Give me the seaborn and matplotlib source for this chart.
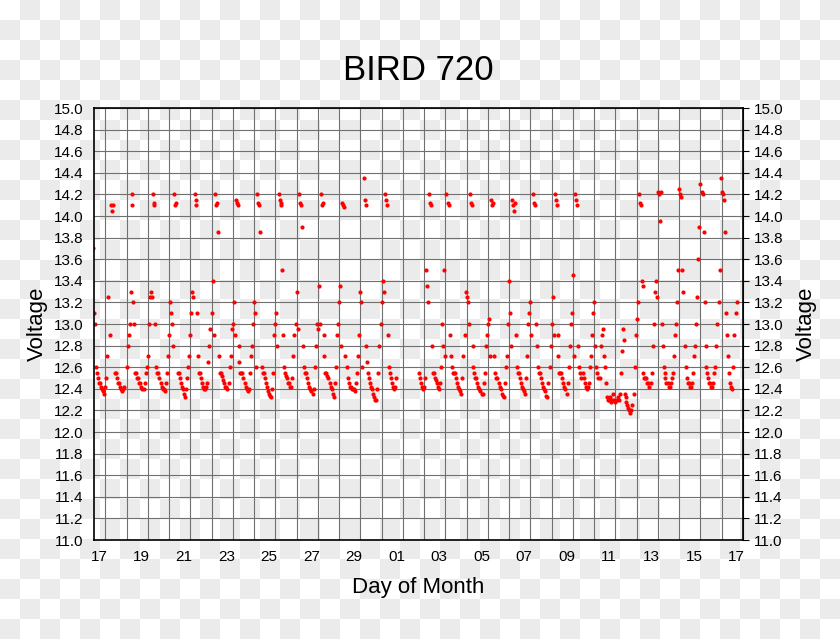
import numpy as np
import pandas as pd
import matplotlib
matplotlib.use("Agg")
import matplotlib.pyplot as plt
import seaborn as sns

# day index 0 = Sep 17; each row: time offsets within the day and voltages
day_offsets = [
    [-0.15, -0.12, -0.1, -0.05, 0.0, 0.05, 0.1, 0.15, 0.2, 0.25, 0.3, 0.35, 0.4, 0.45, 0.5, 0.55, 0.6, 0.65, 0.7, 0.75, 0.8, 0.85, 0.9],
    [0.0, 0.05, 0.1, 0.15, 0.2, 0.25, 0.3, 0.35, 0.4, 0.45, 0.55, 0.6, 0.65, 0.7, 0.75, 0.8, 0.83, 0.86, 0.9, 0.95],
    [0.0, 0.05, 0.1, 0.15, 0.2, 0.25, 0.3, 0.35, 0.4, 0.45, 0.5, 0.55, 0.6, 0.65, 0.7, 0.75, 0.8, 0.82, 0.85, 0.9, 0.95],
    [0.0, 0.05, 0.1, 0.15, 0.2, 0.25, 0.3, 0.35, 0.4, 0.45, 0.5, 0.55, 0.6, 0.65, 0.7, 0.75, 0.8, 0.85, 0.9, 0.95],
    [0.0, 0.05, 0.1, 0.15, 0.2, 0.25, 0.3, 0.35, 0.4, 0.45, 0.5, 0.55, 0.6, 0.65, 0.7, 0.75, 0.8, 0.83, 0.86, 0.9, 0.95],
    [0.0, 0.05, 0.1, 0.15, 0.2, 0.25, 0.3, 0.35, 0.4, 0.45, 0.5, 0.55, 0.6, 0.65, 0.7, 0.75, 0.8, 0.85, 0.9, 0.95],
    [0.0, 0.05, 0.1, 0.15, 0.2, 0.25, 0.3, 0.35, 0.4, 0.45, 0.5, 0.55, 0.6, 0.65, 0.7, 0.75, 0.8, 0.83, 0.86, 0.9, 0.95],
    [0.0, 0.05, 0.1, 0.15, 0.2, 0.25, 0.3, 0.35, 0.4, 0.45, 0.5, 0.55, 0.6, 0.65, 0.7, 0.75, 0.8, 0.85, 0.9, 0.95],
    [0.0, 0.05, 0.1, 0.15, 0.2, 0.25, 0.3, 0.35, 0.4, 0.45, 0.5, 0.55, 0.6, 0.65, 0.7, 0.75, 0.8, 0.83, 0.86, 0.9, 0.95],
    [0.0, 0.05, 0.1, 0.15, 0.2, 0.25, 0.3, 0.35, 0.4, 0.45, 0.5, 0.55, 0.6, 0.65, 0.7, 0.75, 0.8, 0.85, 0.9, 0.95],
    [0.0, 0.05, 0.1, 0.15, 0.2, 0.25, 0.3, 0.35, 0.4, 0.45, 0.5, 0.55, 0.6, 0.65, 0.7, 0.75, 0.8, 0.83, 0.86, 0.9, 0.95],
    [0.0, 0.05, 0.1, 0.15, 0.2, 0.25, 0.3, 0.35, 0.4, 0.45, 0.5, 0.55, 0.6, 0.65, 0.7, 0.75, 0.8, 0.85, 0.9, 0.95],
    [0.0, 0.05, 0.1, 0.15, 0.2, 0.25, 0.3, 0.35, 0.4, 0.45, 0.5, 0.55, 0.6, 0.65, 0.7, 0.75, 0.8, 0.83, 0.86, 0.9, 0.95],
    [0.0, 0.05, 0.1, 0.15, 0.2, 0.25, 0.3, 0.35, 0.4, 0.45, 0.5, 0.55, 0.6, 0.65, 0.7, 0.75, 0.8, 0.85, 0.9, 0.95],
    [0.0, 0.05, 0.1, 0.15, 0.2, 0.25],
    [0.3, 0.35, 0.4, 0.45, 0.5, 0.55, 0.6, 0.65, 0.7, 0.75, 0.8, 0.83, 0.86, 0.9, 0.95],
    [0.0, 0.05, 0.1, 0.15, 0.2, 0.25, 0.3, 0.35, 0.4, 0.45, 0.5, 0.55, 0.6, 0.65, 0.7, 0.75, 0.8, 0.85, 0.9, 0.95],
    [0.0, 0.05, 0.1, 0.15, 0.2, 0.25, 0.3, 0.35, 0.4, 0.45, 0.5, 0.55, 0.6, 0.65, 0.7, 0.75, 0.8, 0.83, 0.86, 0.9, 0.95],
    [0.0, 0.05, 0.1, 0.15, 0.2, 0.25, 0.3, 0.35, 0.4, 0.45, 0.5, 0.55, 0.6, 0.65, 0.7, 0.75, 0.8, 0.85, 0.9, 0.95],
    [0.0, 0.05, 0.1, 0.15, 0.2, 0.25, 0.3, 0.35, 0.4, 0.45, 0.5, 0.55, 0.6, 0.65, 0.7, 0.75, 0.8, 0.83, 0.86, 0.9, 0.95],
    [0.0, 0.05, 0.1, 0.15, 0.2, 0.25, 0.3, 0.35, 0.4, 0.45, 0.5, 0.55, 0.6, 0.65, 0.7, 0.75, 0.8, 0.85, 0.9, 0.95],
    [0.0, 0.05, 0.1, 0.15, 0.2, 0.25, 0.3, 0.35, 0.4, 0.45, 0.5, 0.55, 0.6, 0.65, 0.7, 0.75, 0.8, 0.83, 0.86, 0.9, 0.95],
    [0.0, 0.05, 0.1, 0.15, 0.2, 0.25, 0.3, 0.35, 0.4, 0.45, 0.5, 0.55, 0.6, 0.65, 0.7, 0.75, 0.8, 0.85, 0.9, 0.95],
    [0.0, 0.05, 0.1, 0.15, 0.2, 0.25, 0.3, 0.35, 0.4, 0.45, 0.5, 0.55, 0.6, 0.65, 0.7, 0.75, 0.8, 0.85, 0.9, 0.95],
    [0.0, 0.05, 0.1, 0.15, 0.2, 0.25, 0.3, 0.35, 0.4, 0.45, 0.5, 0.55, 0.6, 0.65, 0.7, 0.75, 0.8, 0.85, 0.9, 0.95],
    [0.0, 0.03, 0.06, 0.1, 0.15, 0.2, 0.25, 0.3, 0.35, 0.4, 0.45, 0.5, 0.55, 0.6, 0.65, 0.7, 0.75, 0.8, 0.83, 0.86, 0.9, 0.95],
    [0.0, 0.05, 0.1, 0.15, 0.2, 0.25, 0.3, 0.35, 0.4, 0.45, 0.5, 0.55, 0.6, 0.65, 0.7, 0.75, 0.8, 0.83, 0.86, 0.9, 0.95],
    [0.0, 0.05, 0.1, 0.15, 0.2, 0.25, 0.3, 0.35, 0.4, 0.45, 0.5, 0.55, 0.6, 0.65, 0.7, 0.75, 0.8, 0.85, 0.9, 0.95],
    [0.0, 0.05, 0.1, 0.15, 0.2, 0.25, 0.3, 0.35, 0.4, 0.45, 0.5, 0.55, 0.6, 0.65, 0.7, 0.75, 0.8, 0.83, 0.86, 0.9, 0.95],
    [0.0, 0.05, 0.1, 0.15, 0.2, 0.25, 0.3, 0.35, 0.4, 0.45, 0.5, 0.55, 0.6, 0.65, 0.7, 0.75, 0.8, 0.85, 0.9, 0.95],
    [0.0, 0.05, 0.1, 0.15, 0.2, 0.25],
]
volts = [
    [14.0, 14.1, 14.05, 13.7, 13.1, 13.0, 12.6, 12.55, 12.5, 12.45, 12.45, 12.42, 12.4, 12.38, 12.35, 12.42, 12.5, 12.7, 13.25, 12.9, 14.1, 14.05, 14.1],
    [12.55, 12.55, 12.5, 12.45, 12.45, 12.42, 12.4, 12.38, 12.4, 12.42, 12.6, 12.8, 12.9, 13.0, 13.3, 14.2, 14.1, 13.2, 13.0, 12.55],
    [12.55, 12.5, 12.5, 12.45, 12.45, 12.42, 12.4, 12.4, 12.45, 12.55, 12.6, 12.7, 13.0, 13.25, 13.3, 13.25, 14.2, 14.12, 14.1, 13.0, 12.6],
    [12.55, 12.55, 12.5, 12.45, 12.42, 12.4, 12.4, 12.38, 12.45, 12.55, 12.7, 12.9, 13.2, 13.1, 13.0, 12.8, 14.2, 14.1, 14.12, 12.55],
    [12.55, 12.5, 12.45, 12.42, 12.4, 12.35, 12.32, 12.4, 12.5, 12.6, 12.7, 12.9, 13.1, 13.3, 13.25, 14.2, 14.15, 14.1, 13.1, 12.7, 12.55],
    [12.55, 12.5, 12.45, 12.42, 12.4, 12.4, 12.42, 12.45, 12.65, 12.8, 12.95, 13.1, 13.4, 12.9, 14.2, 14.1, 14.12, 13.85, 12.7, 12.55],
    [12.55, 12.52, 12.48, 12.45, 12.42, 12.42, 12.4, 12.45, 12.6, 12.7, 12.95, 13.0, 13.2, 12.9, 14.15, 14.12, 14.1, 12.8, 12.65, 12.55, 12.55],
    [12.55, 12.5, 12.45, 12.42, 12.4, 12.38, 12.4, 12.55, 12.7, 12.8, 13.0, 13.2, 13.1, 12.6, 14.2, 14.12, 14.1, 13.85, 12.6, 12.55],
    [12.55, 12.5, 12.45, 12.42, 12.38, 12.35, 12.33, 12.32, 12.4, 12.55, 12.9, 13.0, 13.1, 12.8, 14.2, 14.15, 14.1, 14.12, 13.5, 12.9, 12.6],
    [12.55, 12.52, 12.5, 12.45, 12.45, 12.42, 12.42, 12.5, 12.7, 12.9, 13.0, 13.3, 12.95, 14.2, 14.12, 14.1, 13.9, 12.8, 12.6, 12.55],
    [12.55, 12.5, 12.45, 12.42, 12.4, 12.38, 12.35, 12.4, 12.6, 12.8, 13.0, 12.95, 13.35, 13.0, 14.2, 14.1, 14.12, 12.9, 12.7, 12.55, 12.55],
    [12.52, 12.5, 12.45, 12.42, 12.4, 12.35, 12.32, 12.45, 12.6, 12.9, 13.0, 13.2, 13.35, 12.8, 14.12, 14.1, 14.08, 12.7, 12.6, 12.5],
    [12.45, 12.42, 12.42, 12.4, 12.4, 12.4, 12.38, 12.45, 12.55, 12.7, 12.9, 13.3, 13.2, 12.6, 14.35, 14.15, 14.1, 12.8, 12.65, 12.55, 12.5],
    [12.45, 12.42, 12.4, 12.35, 12.32, 12.3, 12.3, 12.4, 12.55, 12.8, 13.0, 13.2, 13.4, 13.3, 14.2, 14.15, 14.1, 12.9, 12.6, 12.55],
    [12.5, 12.45, 12.42, 12.4, 12.42, 12.5],
    [12.55, 12.5, 12.45, 12.42, 12.4, 12.42, 12.5, 13.5, 13.35, 13.2, 14.2, 14.12, 14.1, 12.8, 12.55],
    [12.55, 12.5, 12.48, 12.45, 12.42, 12.4, 12.45, 12.6, 13.0, 12.8, 13.5, 12.7, 14.2, 14.12, 14.1, 12.9, 12.7, 12.6, 12.55, 12.55],
    [12.55, 12.5, 12.45, 12.42, 12.4, 12.38, 12.35, 12.5, 12.7, 12.9, 13.3, 13.25, 13.2, 13.0, 14.2, 14.12, 14.1, 12.8, 12.6, 12.55, 12.5],
    [12.5, 12.45, 12.42, 12.4, 12.38, 12.35, 12.35, 12.45, 12.55, 12.8, 12.9, 13.0, 13.05, 12.7, 14.15, 14.1, 14.12, 12.7, 12.55, 12.5],
    [12.5, 12.45, 12.42, 12.4, 12.35, 12.33, 12.32, 12.45, 12.6, 12.7, 13.0, 13.4, 13.1, 12.8, 14.15, 14.1, 14.05, 14.12, 12.9, 12.6, 12.55],
    [12.55, 12.5, 12.45, 12.42, 12.4, 12.38, 12.35, 12.5, 12.7, 13.0, 13.1, 13.2, 12.9, 14.2, 14.12, 14.1, 13.0, 12.8, 12.6, 12.55],
    [12.55, 12.5, 12.45, 12.42, 12.4, 12.38, 12.33, 12.32, 12.45, 12.6, 12.8, 13.0, 13.25, 12.9, 14.2, 14.15, 14.1, 12.9, 12.7, 12.55, 12.55],
    [12.55, 12.5, 12.45, 12.42, 12.4, 12.35, 12.45, 12.6, 12.8, 13.0, 13.1, 13.45, 12.7, 14.2, 14.15, 14.1, 12.8, 12.6, 12.55, 12.5],
    [12.55, 12.5, 12.45, 12.42, 12.4, 12.42, 12.45, 12.6, 12.7, 12.9, 13.1, 13.2, 12.8, 12.6, 12.55, 12.5, 12.5, 12.8, 12.9, 12.95],
    [12.7, 12.6, 12.45, 12.32, 12.3, 12.3, 12.32, 12.28, 12.3, 12.35, 12.3, 12.28, 12.3, 12.32, 12.3, 12.35, 12.55, 12.75, 12.95, 12.85, 12.6, 12.45],
    [12.35, 12.32, 12.28, 12.25, 12.22, 12.2, 12.18, 12.2, 12.25, 12.35, 12.6, 12.9, 13.05, 13.2, 14.2, 14.12, 14.1, 13.4, 13.35, 12.55, 12.5, 12.5],
    [12.5, 12.45, 12.45, 12.42, 12.45, 12.55, 12.8, 13.0, 13.3, 13.4, 13.25, 14.22, 14.2, 13.95, 14.22, 13.0, 12.8, 12.6, 12.55, 12.5, 12.45],
    [12.45, 12.42, 12.42, 12.45, 12.5, 12.55, 12.7, 12.9, 13.0, 13.2, 13.5, 14.25, 14.2, 14.18, 13.5, 13.3, 12.8, 12.6, 12.5, 12.45],
    [12.45, 12.42, 12.42, 12.45, 12.55, 12.7, 12.8, 13.0, 13.25, 13.6, 13.9, 14.3, 14.22, 14.2, 13.85, 13.2, 12.8, 12.6, 12.55, 12.5, 12.45],
    [12.45, 12.42, 12.42, 12.45, 12.55, 12.6, 12.8, 13.0, 13.2, 13.5, 14.35, 14.22, 14.2, 14.15, 13.85, 13.1, 12.9, 12.7, 12.55, 12.45],
    [12.42, 12.4, 12.6, 12.9, 13.1, 13.2],
]
tick_days = list(range(0, 31, 2))
tick_labels = ["17", "19", "21", "23", "25", "27", "29", "01", "03", "05", "07", "09", "11", "13", "15", "17"]

rows = []
for d, (offs, vs) in enumerate(zip(day_offsets, volts)):
    for o, v in zip(offs, vs):
        rows.append({"day": d - 0.25 + o, "voltage": v})
df = pd.DataFrame(rows)

sns.set_style("white")
plt.rcParams["font.family"] = ["Liberation Sans", "DejaVu Sans"]
plt.rcParams["text.color"] = "black"
plt.rcParams["axes.labelcolor"] = "black"
plt.rcParams["xtick.color"] = "black"
plt.rcParams["ytick.color"] = "black"
fig = plt.figure(figsize=(8.4, 6.39), dpi=100)

# checkerboard (transparent-background look)
bg = fig.add_axes([0, 0, 1, 1], zorder=-1)
board = (np.add.outer(np.arange(32), np.arange(42)) % 2)
bg.imshow(board, cmap=matplotlib.colors.ListedColormap(["#ffffff", "#ebebeb"]), aspect="auto",
          extent=[0, 840, 0, 639], interpolation="nearest")
bg.set_axis_off()

ax = fig.add_axes([94 / 840, 1 - 540 / 639, 649 / 840, 432 / 639])
ax.patch.set_alpha(0)
sns.scatterplot(data=df, x="day", y="voltage", color="red", s=9, linewidth=0, ax=ax)

ax.set_xlim(-0.23, 30.28)
ax.set_ylim(11.0, 15.0)
ax.set_xticks(tick_days)
ax.set_xticklabels(tick_labels, fontsize=11)
ax.set_xticks(np.arange(0, 31) + 0.3, minor=True)
yt = np.round(np.arange(11.0, 15.01, 0.2), 1)
ax.set_yticks(yt)
ax.set_yticklabels([f"{v:.1f}" for v in yt], fontsize=11)
ax.grid(True, which="minor", axis="x", color="#707070", lw=0.8)
ax.grid(True, which="major", axis="y", color="#707070", lw=0.8)
ax.tick_params(axis="x", which="minor", length=0)
ax.tick_params(axis="both", which="major", length=4, direction="out", labelright=True, right=True)
for s in ax.spines.values():
    s.set_color("black")
    s.set_linewidth(1.2)

ax.set_xlabel("Day of Month", fontsize=16, labelpad=9)
ax.set_ylabel("Voltage", fontsize=16)
ax2 = ax.secondary_yaxis("right")
ax2.set_yticks([])
ax2.set_ylabel("Voltage", fontsize=16, labelpad=38)
ax.set_title("BIRD 720", fontsize=25, pad=20)

fig.savefig("out.png", dpi=100)
